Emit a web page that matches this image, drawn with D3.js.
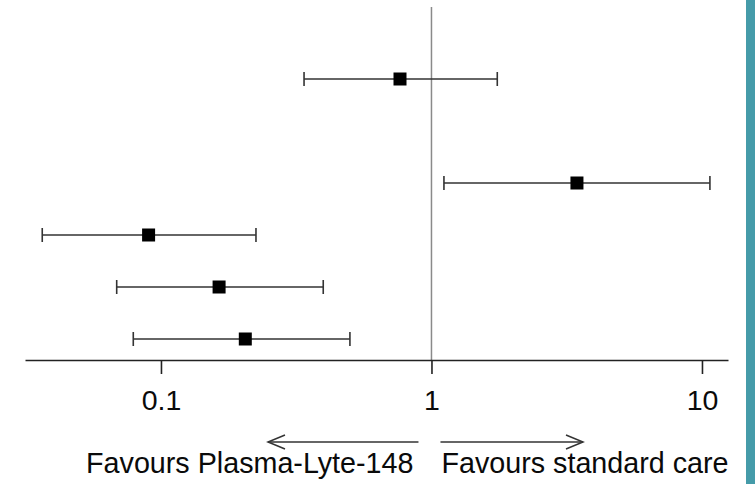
<!DOCTYPE html>
<html>
<head>
<meta charset="utf-8">
<script src="https://cdn.jsdelivr.net/npm/d3@7"></script>
<style>
  html, body { margin: 0; padding: 0; background: #fff; }
  svg { display: block; font-family: "Liberation Sans", Arial, sans-serif; }
</style>
</head>
<body>
<svg id="chart" width="755" height="484"></svg>
<script>
// rows top to bottom (row 2 is an empty spacer row)
var rows = ["r1", "r2", "r3", "r4", "r5", "r6"];
var estRows = ["r1", "r3", "r4", "r5", "r6"];
var estimates = [0.765, 3.45, 0.090, 0.164, 0.205];
var lowers = [0.338, 1.112, 0.0364, 0.0686, 0.079];
var uppers = [1.751, 10.7, 0.2245, 0.398, 0.4995];
var tickValues = [0.1, 1, 10];
var leftLabel = "Favours Plasma-Lyte-148";
var rightLabel = "Favours standard care";

var svg = d3.select("#chart");

// teal strip on the right edge
svg.append("rect")
    .attr("x", 746).attr("y", 0)
    .attr("width", 9).attr("height", 484)
    .attr("fill", "#459ba9");

var x = d3.scaleLog()
    .domain([0.03143, 12.48])
    .range([25, 728]);

var y = d3.scalePoint()
    .domain(rows)
    .range([79, 339]);

var axisY = 360;

// null line at 1
svg.append("line")
    .attr("x1", x(1)).attr("x2", x(1))
    .attr("y1", 7).attr("y2", axisY)
    .attr("stroke", "#8a8a8a")
    .attr("stroke-width", 1.5);

// x axis
var axis = svg.append("g")
    .attr("transform", "translate(0," + axisY + ")")
    .call(d3.axisBottom(x)
        .tickValues(tickValues)
        .tickFormat(d3.format("~g"))
        .tickSize(14)
        .tickSizeOuter(0)
        .tickPadding(16));

axis.select(".domain").attr("stroke", "#222").attr("stroke-width", 1.6);
axis.selectAll(".tick line").attr("stroke", "#222").attr("stroke-width", 1.6);
axis.selectAll(".tick text")
    .attr("fill", "#0a0a0a")
    .style("font-size", "28.5px")
    .style("font-family", "'Liberation Sans', Arial, sans-serif");

// rows of estimates
var data = estRows.map(function (r, i) {
    return { row: r, est: estimates[i], lo: lowers[i], hi: uppers[i] };
});

var g = svg.append("g").selectAll("g.est").data(data).enter()
    .append("g").attr("class", "est");

g.append("line")
    .attr("x1", function (d) { return x(d.lo); })
    .attr("x2", function (d) { return x(d.hi); })
    .attr("y1", function (d) { return y(d.row); })
    .attr("y2", function (d) { return y(d.row); })
    .attr("stroke", "#333").attr("stroke-width", 1.6);

["lo", "hi"].forEach(function (k) {
    g.append("line")
        .attr("x1", function (d) { return x(d[k]); })
        .attr("x2", function (d) { return x(d[k]); })
        .attr("y1", function (d) { return y(d.row) - 7; })
        .attr("y2", function (d) { return y(d.row) + 7; })
        .attr("stroke", "#333").attr("stroke-width", 1.6);
});

var sq = 13;
g.append("rect")
    .attr("x", function (d) { return x(d.est) - sq / 2; })
    .attr("y", function (d) { return y(d.row) - sq / 2; })
    .attr("width", sq).attr("height", sq)
    .attr("fill", "#000");

// direction arrows
var arrowY = 442;
function arrow(x1, x2) {
    var dir = x2 > x1 ? 1 : -1;
    var a = svg.append("g").attr("stroke", "#333").attr("stroke-width", 1.5).attr("fill", "none");
    a.append("line").attr("x1", x1).attr("x2", x2).attr("y1", arrowY).attr("y2", arrowY);
    a.append("path").attr("d",
        "M" + (x2 - dir * 17) + "," + (arrowY - 7) + "L" + x2 + "," + arrowY + "L" + (x2 - dir * 17) + "," + (arrowY + 7));
}
arrow(x(1) - 13, 268);
arrow(x(1) + 9, 583);

svg.append("text")
    .attr("x", x(1) - 18).attr("y", 473)
    .attr("text-anchor", "end")
    .style("font-size", "28.7px")
    .attr("fill", "#0a0a0a")
    .text(leftLabel);

svg.append("text")
    .attr("x", x(1) + 10).attr("y", 473)
    .attr("text-anchor", "start")
    .style("font-size", "28.7px")
    .attr("fill", "#0a0a0a")
    .text(rightLabel);
</script>
</body>
</html>
